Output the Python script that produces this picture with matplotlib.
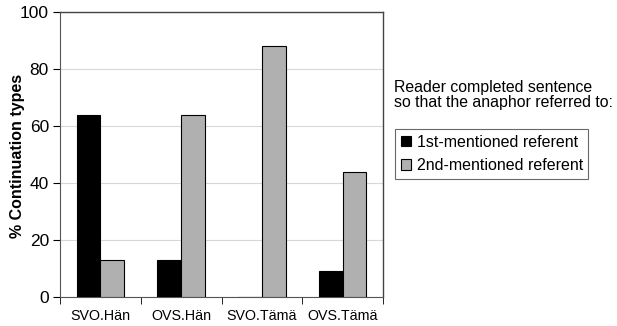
import matplotlib
matplotlib.use('Agg')
import matplotlib.pyplot as plt
import numpy as np

plt.rcParams['font.family'] = ['Liberation Sans', 'DejaVu Sans']

categories = ['SVO.Hän', 'OVS.Hän', 'SVO.Tämä', 'OVS.Tämä']
first_mentioned = [64, 13, 0, 9]
second_mentioned = [13, 64, 88, 44]
yticks = [0, 20, 40, 60, 80, 100]

fig = plt.figure(figsize=(6.17, 3.26), dpi=100)
ax = fig.add_axes([60 / 617, 29 / 326, 323 / 617, 285 / 326])

x = np.arange(len(categories))
w = 0.295
ax.bar(x - w / 2, first_mentioned, w, color='black', edgecolor='black',
       linewidth=0.8, label='1st-mentioned referent', zorder=3)
ax.bar(x + w / 2, second_mentioned, w, color='#b0b0b0', edgecolor='black',
       linewidth=0.8, label='2nd-mentioned referent', zorder=3)

ax.set_xlim(-0.5, len(categories) - 0.5)
ax.set_ylim(0, 100)
ax.set_yticks(yticks)
ax.tick_params(axis='y', labelsize=12.5, length=5, direction='out', pad=3)
ax.set_xticks(x)
ax.set_xticklabels(categories, fontsize=10.3)
ax.tick_params(axis='x', length=0, pad=9)
ax.set_xticks(np.arange(len(categories) + 1) - 0.5, minor=True)
ax.tick_params(axis='x', which='minor', length=5)
ax.yaxis.grid(True, color='#d8d8d8', linewidth=0.8, zorder=0)
ax.set_axisbelow(True)
for s in ['left', 'bottom']:
    ax.spines[s].set_color('#555555')
for s in ['top', 'right']:
    ax.spines[s].set_color('#444444')
    ax.spines[s].set_linewidth(1.0)

fig.text(18 / 617, 1 - 156 / 326, '% Continuation types', rotation=90,
         fontsize=11.5, fontweight='bold', ha='center', va='center')

fig.text(394 / 617, 1 - 95 / 326,
         'Reader completed sentence\nso that the anaphor referred to:',
         fontsize=11.4, va='center', ha='left', linespacing=0.98)
leg = fig.legend(loc='upper left', bbox_to_anchor=(395 / 617, 1 - 129 / 326),
                 fontsize=11.5, frameon=True, fancybox=False,
                 handlelength=0.65, handleheight=0.65, handletextpad=0.35,
                 borderpad=0.35, labelspacing=0.55, borderaxespad=0)
leg.get_frame().set_edgecolor('#444444')
leg.get_frame().set_linewidth(0.8)

fig.savefig('out.png', dpi=100)
